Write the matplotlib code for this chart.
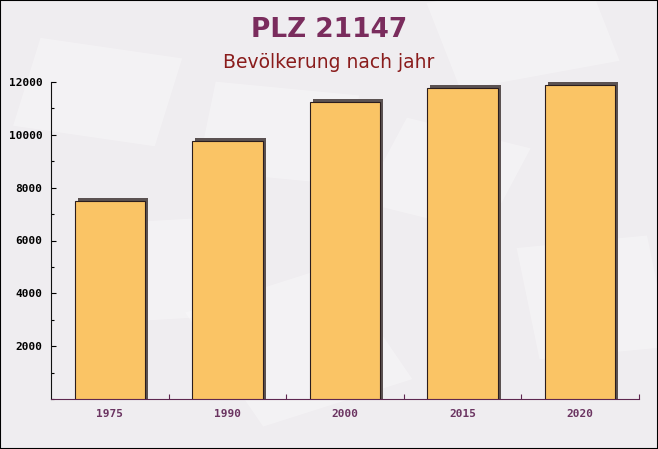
import matplotlib.pyplot as plt
import matplotlib.transforms as mtransforms
from matplotlib.patches import Rectangle
from matplotlib.ticker import FixedLocator, MultipleLocator

# Daten
jahre = ['1975', '1990', '2000', '2015', '2020']
einwohner = [7500, 9770, 11250, 11780, 11900]

fig = plt.figure(figsize=(6.58, 4.49), dpi=100)
fig.patch.set_facecolor('#efedf0')

# dezente Hintergrund-Deko (Briefumschlaege)
deko = [(0.02, 0.72, 0.22, 0.2, -12), (0.40, 0.05, 0.25, 0.28, 25), (0.55, 0.55, 0.2, 0.2, -20),
        (0.82, 0.2, 0.2, 0.25, 8), (0.15, 0.28, 0.2, 0.22, 5), (0.70, 0.80, 0.25, 0.2, 15),
        (0.30, 0.62, 0.22, 0.2, -8)]
for x0, y0, w, h, ang in deko:
    fig.patches.append(Rectangle((x0, y0), w, h, angle=ang, transform=fig.transFigure,
                                 facecolor='white', alpha=0.3, edgecolor='none', zorder=-10))

ax = fig.add_axes([51/658, 1 - 399/449, (639 - 51)/658, (399 - 82)/449])
ax.set_facecolor('none')

x = list(range(len(jahre)))

# Schatten: gleiche Balken, um ~3px nach rechts/oben verschoben, unten von der Achse abgeschnitten
versatz = ax.transData + mtransforms.ScaledTranslation(3/100, 3/100, fig.dpi_scale_trans)
ax.bar(x, [v + 1000 for v in einwohner], bottom=-1000, width=0.6, color='#5b5252',
       edgecolor='none', zorder=2, transform=versatz)
ax.bar(x, einwohner, width=0.6, color='#fac465', edgecolor='#2b1d1d', linewidth=0.8, zorder=3)

ax.set_xlim(-0.5, len(jahre) - 0.5)
ax.set_ylim(0, 12000)

ax.set_xticks(x)
ax.set_xticklabels(jahre)
ax.xaxis.set_minor_locator(FixedLocator([i + 0.5 for i in x]))
ax.set_yticks([2000, 4000, 6000, 8000, 10000, 12000])
ax.yaxis.set_minor_locator(MultipleLocator(1000))

ax.tick_params(axis='x', which='major', length=0, pad=7, colors='#6b3461')
ax.tick_params(axis='x', which='minor', length=3.3, direction='in', color='#5e2750', width=0.8)
ax.tick_params(axis='y', which='major', length=3.6, direction='in', pad=6, width=0.8)
ax.tick_params(axis='y', which='minor', length=2.4, direction='in', width=0.8)

for lab in ax.get_xticklabels() + ax.get_yticklabels():
    lab.set_fontfamily('DejaVu Sans Mono')
    lab.set_fontweight('bold')
    lab.set_fontsize(8)
for lab in ax.get_xticklabels():
    lab.set_color('#6b3461')

ax.spines['top'].set_visible(False)
ax.spines['right'].set_visible(False)
ax.spines['left'].set_color('#111111')
ax.spines['bottom'].set_color('#5e2750')
ax.spines['left'].set_linewidth(0.8)
ax.spines['bottom'].set_linewidth(0.8)

fig.text(0.5, 1 - 30/449, 'PLZ 21147', ha='center', va='center', fontsize=19,
         fontweight='bold', color='#7a2c5d', family='DejaVu Sans')
fig.text(0.5, 1 - 63/449, 'Bevölkerung nach jahr', ha='center', va='center', fontsize=13.5,
         color='#8a1c1c', family='DejaVu Sans')

# Rahmen
fig.patches.append(Rectangle((0, 0), 1, 1, transform=fig.transFigure, fill=False,
                             edgecolor='black', linewidth=1.5, zorder=10))

fig.savefig('out.png', dpi=100, facecolor=fig.get_facecolor())
